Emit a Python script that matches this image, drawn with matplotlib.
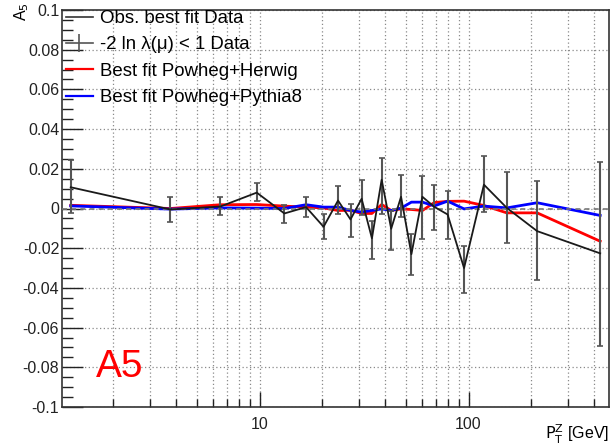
import numpy as np
import matplotlib
matplotlib.use("Agg")
import matplotlib.pyplot as plt
from matplotlib.lines import Line2D
from matplotlib.ticker import FixedLocator, NullFormatter, FixedFormatter

plt.rcParams['font.family'] = ['Liberation Sans', 'DejaVu Sans']

# ---- data ----
pt = [1.25, 3.75, 6.5, 9.7, 13.15, 16.7, 20.25, 23.75, 27.25, 30.8, 34.5, 38.4,
      42.65, 47.55, 53.3, 60.15, 68.65, 79.4, 95.2, 118.5, 152.5, 213.0, 426.5]
obs = [0.0107, -0.0005, 0.0010, 0.0080, -0.0025, 0.0007, -0.0092, 0.0040, -0.0055,
       0.0049, -0.0150, 0.0145, -0.0102, 0.0059, -0.0230, 0.0059, 0.0008, -0.0030,
       -0.0300, 0.0120, 0.0003, -0.0114, -0.0226]
err_up = [0.0135, 0.0062, 0.0050, 0.0046, 0.0042, 0.0052, 0.0062, 0.0072, 0.0079,
          0.0093, 0.0086, 0.0110, 0.0088, 0.0109, 0.0103, 0.0107, 0.0109, 0.0117,
          0.0110, 0.0147, 0.0182, 0.0251, 0.0461]
err_dn = [0.0132, 0.0065, 0.0045, 0.0043, 0.0050, 0.0051, 0.0064, 0.0070, 0.0087,
          0.0084, 0.0103, 0.0175, 0.0109, 0.0101, 0.0106, 0.0215, 0.0114, 0.0122,
          0.0124, 0.0139, 0.0179, 0.0247, 0.0467]
herwig = [0.0016, 0.0000, 0.0019, 0.0020, 0.0012, 0.0007, 0.0003, -0.0010, -0.0009,
          -0.0025, -0.0025, 0.0020, -0.0010, -0.0002, -0.0005, -0.0010, 0.0030,
          0.0036, 0.0037, 0.0015, -0.0022, -0.0022, -0.0165]
pythia = [0.0013, -0.0003, 0.0003, 0.0002, 0.0000, 0.0019, 0.0007, 0.0007, -0.0010,
          -0.0018, -0.0010, -0.0002, -0.0010, 0.0002, 0.0032, 0.0032, 0.0013,
          0.0037, -0.0002, 0.0012, 0.0003, 0.0029, -0.0035]

ytick_vals = [-0.1, -0.08, -0.06, -0.04, -0.02, 0.0, 0.02, 0.04, 0.06, 0.08, 0.1]
ytick_labels = ["-0.1", "-0.08", "-0.06", "-0.04", "-0.02", "0", "0.02", "0.04",
                "0.06", "0.08", "0.1"]
xmajor = [10, 100]
xmajor_labels = ["10", "100"]
xminor = [2, 3, 4, 5, 6, 7, 8, 9, 20, 30, 40, 50, 60, 70, 80, 90, 200, 300, 400]
legend_labels = ["Obs. best fit Data", "-2 ln \u03bb(\u03bc) < 1 Data",
                 "Best fit Powheg+Herwig", "Best fit Powheg+Pythia8"]

W, H = 611, 447
fig = plt.figure(figsize=(W / 100, H / 100), dpi=100)
ax = fig.add_axes([62 / W, 1 - 407 / H, (609 - 62) / W, (407 - 10) / H])
ax.set_xscale('log')
ax.set_xlim(1.135, 470)
ax.set_ylim(-0.1, 0.1)

# grid
gcol = '#8a8a8a'
for xv in xmajor + xminor:
    ax.axvline(xv, color=gcol, lw=0.9, ls=(0, (1, 2.0)), zorder=0)
for yv in ytick_vals:
    ax.axhline(yv, color=gcol, lw=0.9, ls=(0, (1, 2.0)), zorder=0)

ax.plot(pt, herwig, color='#ff0000', lw=2.0, zorder=2)
ax.plot(pt, pythia, color='#0000ff', lw=2.0, zorder=3)
ax.axhline(0, color='#777777', lw=1.2, ls=(0, (3, 2.5)), zorder=4)
ax.errorbar(pt, obs, yerr=[err_dn, err_up], fmt='none', ecolor='#555555',
            elinewidth=1.5, capsize=2.0, capthick=1.2, zorder=5)
ax.plot(pt, obs, color='#1a1a1a', lw=1.3, zorder=6)

# ticks
ax.xaxis.set_major_locator(FixedLocator(xmajor))
ax.xaxis.set_major_formatter(FixedFormatter(xmajor_labels))
ax.xaxis.set_minor_locator(FixedLocator(xminor))
ax.xaxis.set_minor_formatter(NullFormatter())
ax.yaxis.set_major_locator(FixedLocator(ytick_vals))
ax.yaxis.set_major_formatter(FixedFormatter(ytick_labels))
ax.yaxis.set_minor_locator(FixedLocator(np.arange(-0.1, 0.1001, 0.005)))
ax.tick_params(axis='both', which='both', direction='in', top=False, right=False,
               labelsize=11.5, colors='#222222')
ax.tick_params(axis='y', which='major', length=15, width=1, pad=2)
ax.tick_params(axis='y', which='minor', length=8, width=1)
ax.tick_params(axis='x', which='major', length=11, width=1, pad=7)
ax.tick_params(axis='x', which='minor', length=6, width=1)
for s in ax.spines.values():
    s.set_linewidth(1.2)
    s.set_color('#333333')

fig.text(609 / W, 1 - 434 / H, r"$\mathrm{P_{T}^{Z}}$ [GeV]",
         ha='right', va='center', fontsize=11.5)
fig.text(22 / W, 1 - 2 / H, r"A$_5$", rotation=90,
         ha='center', va='top', fontsize=11.5)

fig.text(96 / W, 1 - 377 / H, "A5", color='#ff0000',
         fontsize=28, ha='left', va='baseline')

handles = [Line2D([], [], color='#333333', lw=1.2),
           Line2D([], [], color='#555555', lw=1.2, marker='|', markersize=13,
                  markeredgewidth=1.2),
           Line2D([], [], color='#ff0000', lw=1.6),
           Line2D([], [], color='#0000ff', lw=1.6)]
leg = ax.legend(handles, legend_labels, loc='upper left',
                bbox_to_anchor=(66 / W, 1 - 10 / H), bbox_transform=fig.transFigure,
                frameon=False, fontsize=13.4, handlelength=1.45, handletextpad=0.38,
                labelspacing=0.5, borderaxespad=0, borderpad=0)
leg.set_zorder(10)

fig.savefig("out.png", dpi=100)
